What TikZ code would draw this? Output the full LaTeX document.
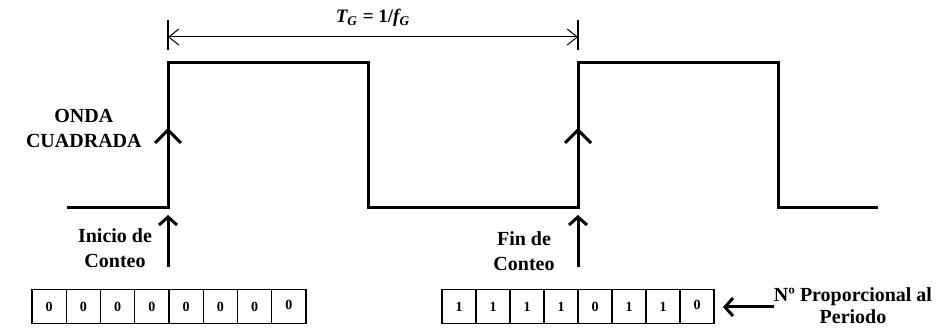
\documentclass[tikz,border=0pt]{standalone}
\usepackage{fontspec}
\setmainfont{Liberation Serif}
\usetikzlibrary{arrows.meta,positioning}

\begin{document}
\begin{tikzpicture}[x=0.5pt,y=-0.5pt,
 wave/.style={line width=1.5pt,line join=miter},
 arr/.style={line width=1.5pt,-{Straight Barb[length=4pt,width=9pt]}},
 dim/.style={line width=0.5pt,{Straight Barb[length=5pt,width=8pt]}-{Straight Barb[length=5pt,width=8pt]}},
 lbl/.style={font=\bfseries\fontsize{10}{12.5}\selectfont,align=center,inner sep=0},
 cell/.style={draw,line width=0.7pt,minimum width=17.1pt,minimum height=17pt,inner sep=0,outer sep=0,
   font=\bfseries\fontsize{7}{8}\selectfont}]
 \useasboundingbox (0,0) rectangle (938,331);

 % square wave
 \draw[wave] (67,207.5) -- (168,207.5) coordinate (up1) -- (168,63) -- (368,63) -- (368,207.5)
   -- (578,207.5) coordinate (up2) -- (578,63) -- (778,63) -- (778,207.5) -- (878,207.5);
 \foreach \x in {168,578}
   \draw[line width=1.5pt] (\x-13,143) -- (\x,130) -- (\x+13,143);

 % period
 \draw[line width=0.75pt] (168,20) -- (168,50) (578,20) -- (578,50);
 \coordinate (dl) at (168,37);
 \coordinate (dr) at (578,37);
 \draw[dim] (dl) -- (dr);
 \node[inner sep=0,font=\bfseries\fontsize{9.5}{11}\selectfont] (per) at (373,18)
   {\textit{T\textsubscript{G}} = 1/\textit{f\textsubscript{G}}};

 % labels
 \node[lbl,anchor=east] (onda) at (142,128) {ONDA\\CUADRADA};
 \node[lbl] (ini) at (115,248) {Inicio de\\Conteo};
 \node[lbl] (fin) at (524,251) {Fin de\\Conteo};
 \node[lbl,font=\bfseries\fontsize{10}{11}\selectfont] (prop) at (853,306) {Nº Proporcional al\\Periodo};

 \coordinate (ta) at (168,215);
 \coordinate (tb) at (578,215);
 \draw[arr] (168,267) -- (ta);
 \draw[arr] (578,267) -- (tb);

 % registers
 \foreach \b [count=\i from 0] in {0,0,0,0,0,0,0,\raisebox{1.5pt}{0}}
   \node[cell] (a\i) at (32+34.25*\i+17.125,306.5) {\b};
 \foreach \b [count=\i from 0] in {1,1,1,1,0,1,1,\raisebox{1.5pt}{0}}
   \node[cell] (b\i) at (442+34*\i+17,306.5) {\b};

 \coordinate (tp) at (723,307);
 \draw[arr] (prop.west |- tp) -- (tp);
\end{tikzpicture}
\end{document}
